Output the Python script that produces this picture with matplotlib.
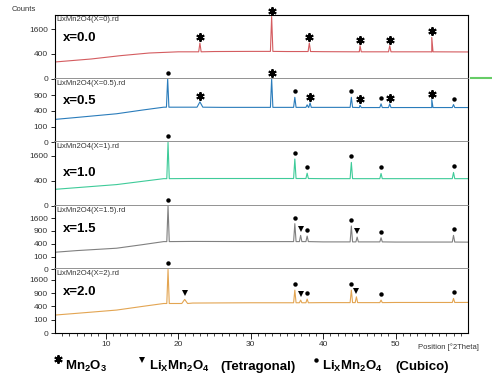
import matplotlib
matplotlib.use("Agg")
import matplotlib.pyplot as plt
import matplotlib.transforms as mtransforms
from matplotlib.lines import Line2D
import numpy as np

plt.rcParams['font.family'] = ['Liberation Sans', 'DejaVu Sans']
plt.rcParams['mathtext.fontset'] = 'custom'
plt.rcParams['mathtext.rm'] = 'Liberation Sans'
plt.rcParams['mathtext.bf'] = 'Liberation Sans:bold'

# ---- data (2theta in degrees, counts) ----
files = ["LixMn2O4(X=0).rd", "LixMn2O4(X=0.5).rd", "LixMn2O4(X=1).rd",
         "LixMn2O4(X=1.5).rd", "LixMn2O4(X=2).rd"]
names = ["x=0.0", "x=0.5", "x=1.0", "x=1.5", "x=2.0"]
colors = ["#d45c60", "#2a7cbb", "#3ecb99", "#808080", "#e3a552"]
ymax = [2650, 1650, 2580, 2460, 2300]

# background points
bg_x = [
    [3, 8, 12, 16, 20, 25, 30, 35, 40, 45, 50, 55, 60],
    [3, 6, 11.5, 15, 18, 22, 26, 30, 35, 40, 45, 50, 55, 60],
    [3, 6, 11.5, 15, 18, 22, 30, 40, 50, 60],
    [3, 6, 11.5, 15, 18, 22, 30, 40, 50, 60],
    [3, 6, 11.5, 15, 18, 22, 30, 40, 50, 60],
]
bg_y = [
    [181, 252, 344, 429, 470, 480, 485, 480, 475, 470, 470, 465, 465],
    [212, 250, 330, 420, 500, 500, 495, 495, 495, 495, 490, 490, 490, 490],
    [173, 210, 287, 380, 470, 475, 475, 470, 470, 470],
    [179, 215, 273, 370, 470, 476, 470, 460, 455, 452],
    [183, 220, 299, 400, 495, 510, 520, 525, 530, 532],
]

# peaks: position, top, phase mark ('*' Mn2O3, 'v' tetragonal, 'o' cubic, '' none)
pk_pos = [
    [23.0, 32.9, 38.1, 45.1, 49.2, 55.0],
    [18.55, 23.0, 32.9, 36.1, 37.8, 38.2, 43.9, 45.1, 48.0, 49.2, 55.0, 58.0],
    [18.6, 36.1, 37.8, 43.9, 48.0, 58.0],
    [18.6, 36.1, 36.9, 37.8, 43.9, 44.7, 48.0, 58.0],
    [18.6, 20.9, 36.1, 36.9, 37.8, 43.9, 44.6, 48.0, 58.0],
]
pk_top = [
    [829, 2524, 829, 708, 708, 1109],
    [1650, 664, 1650, 822, 570, 631, 822, 557, 600, 600, 741, 578],
    [2580, 1394, 678, 1202, 666, 708],
    [2460, 1272, 704, 675, 1146, 635, 607, 704],
    [2300, 641, 1045, 616, 653, 1045, 745, 616, 680],
]
pk_mark = [
    ['*', '*', '*', '*', '*', '*'],
    ['o', '*', '*', 'o', '', '*', 'o', '*', 'o', '*', '*', 'o'],
    ['o', 'o', 'o', 'o', 'o', 'o'],
    ['o', 'o', 'v', 'o', 'o', 'v', 'o', 'o'],
    ['o', 'v', 'o', 'v', 'o', 'o', 'v', 'o', 'o'],
]

ytick_sets = [[0, 400, 1600], [0, 100, 400, 900], [0, 400, 1600],
              [0, 100, 400, 900, 1600], [0, 100, 400, 900, 1600]]

marker_style = {'*': dict(marker=(6, 2, 0), ms=6, mew=1.4),
                'o': dict(marker='o', ms=3.2, mew=0),
                'v': dict(marker='v', ms=4, mew=0)}


def pattern(i):
    xs = list(bg_x[i])
    ys = list(bg_y[i])
    for p, t in zip(pk_pos[i], pk_top[i]):
        base = bg_y[i][np.searchsorted(bg_x[i], p) - 1]
        w = 0.4 if t < 700 and p < 25 else 0.17
        xs += [p - w, p, p + w]
        ys += [base, t, base]
    order = np.argsort(xs)
    return np.array(xs)[order], np.array(ys)[order]


fig = plt.figure(figsize=(4.92, 3.87), dpi=100)
left, right, top, bottom = 55 / 492, 468 / 492, 1 - 15 / 387, 1 - 333 / 387
h = (top - bottom) / 5

axes = []
for i in range(5):
    ax = fig.add_axes([left, top - (i + 1) * h, right - left, h])
    axes.append(ax)
    ax.set_yscale('function', functions=(lambda v: np.sqrt(np.clip(v, 0, None)),
                                         lambda v: np.square(v)))
    x, y = pattern(i)
    ax.plot(x, y, color=colors[i], lw=0.8)
    ax.set_xlim(3, 60)
    ax.set_ylim(0, ymax[i])
    ax.set_yticks(ytick_sets[i])
    ax.set_yticklabels([str(t) for t in ytick_sets[i]])
    ax.tick_params(axis='y', labelsize=6, labelcolor='#333333', length=3,
                   width=0.6, pad=2, direction='out')

    off = mtransforms.offset_copy(ax.transData, fig=fig, x=0, y=6, units='dots')
    for p, t, m in zip(pk_pos[i], pk_top[i], pk_mark[i]):
        if m == '':
            continue
        ax.plot([p], [t], color='black', ls='none', transform=off,
                clip_on=False, zorder=5, **marker_style[m])

    ax.text(0.004, 0.985, files[i], transform=ax.transAxes, fontsize=5.5,
            color='#333333', va='top', ha='left')
    ypos = 0.52 if i == 2 else 0.64
    ax.text(0.018, ypos, names[i], transform=ax.transAxes, fontsize=9.5,
            fontweight='bold', va='center', ha='left')

    for s in ['left', 'right']:
        ax.spines[s].set_color('black')
        ax.spines[s].set_linewidth(0.8)
    if i > 0:
        ax.spines['top'].set_visible(False)
    else:
        ax.spines['top'].set_linewidth(0.8)
    if i < 4:
        ax.spines['bottom'].set_color('#8a8a8a')
        ax.spines['bottom'].set_linewidth(1.3)
        ax.tick_params(axis='x', which='both', bottom=False, labelbottom=False)
    else:
        ax.spines['bottom'].set_linewidth(0.8)
        ax.set_xticks([10, 20, 30, 40, 50])
        ax.set_xticks(np.arange(4, 60, 1), minor=True)
        ax.tick_params(axis='x', which='major', labelsize=6, labelcolor='#333333',
                       length=4, width=0.6, pad=2)
        ax.tick_params(axis='x', which='minor', length=2.5, width=0.5)

fig.text(0.024, 0.975, "Counts", fontsize=5.5, color='#333333', va='center')
fig.text(418 / 492, 1 - 347 / 387, "Position [°2Theta]", fontsize=5.5,
         color='#333333', va='center', ha='left')

# short green line outside the frame on the right
fig.add_artist(Line2D([471 / 492, 491 / 492], [1 - 78 / 387, 1 - 78 / 387],
                      color='#66cc66', lw=1.5))

# phase key under the plot
yb = 1 - 370 / 387
fig.add_artist(Line2D([58 / 492], [1 - 359 / 387], color='black',
                      **marker_style['*']))
fig.text(65 / 492, yb, r"$\mathbf{Mn_2O_3}$", fontsize=9.5, va='baseline')
fig.add_artist(Line2D([142 / 492], [1 - 360 / 387], color='black',
                      **marker_style['v']))
fig.text(149 / 492, yb, r"$\mathbf{Li_XMn_2O_4}$", fontsize=9.5, va='baseline')
fig.text(220 / 492, yb, "(Tetragonal)", fontsize=9.5, fontweight='bold',
         va='baseline')
fig.add_artist(Line2D([316 / 492], [1 - 360 / 387], color='black',
                      **marker_style['o']))
fig.text(322 / 492, yb, r"$\mathbf{Li_XMn_2O_4}$", fontsize=9.5, va='baseline')
fig.text(395 / 492, yb, "(Cubico)", fontsize=9.5, fontweight='bold',
         va='baseline')

fig.savefig("out.png", dpi=100)
